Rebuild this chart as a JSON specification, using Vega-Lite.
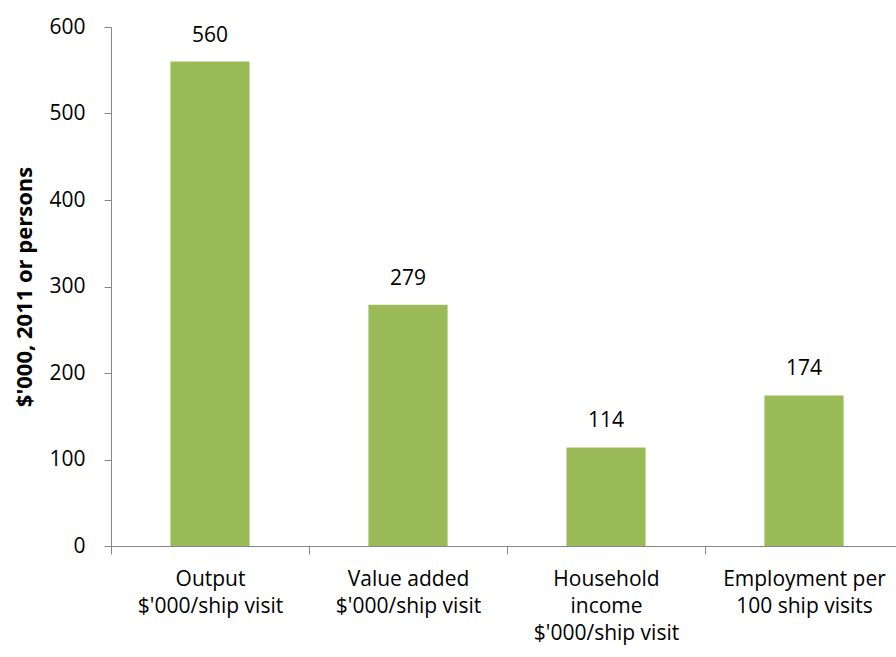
{
  "$schema": "https://vega.github.io/schema/vega-lite/v6.json",
  "autosize": {"type": "none"},
  "padding": {"left": 111, "top": 27, "right": 0, "bottom": 111},
  "width": 792,
  "height": 519,
  "background": "white",
  "config": {"view": {"stroke": null}, "font": "Open Sans"},
  "data": {"values": [
    {"cat": "Output|$'000/ship visit", "value": 560},
    {"cat": "Value added|$'000/ship visit", "value": 279},
    {"cat": "Household|income|$'000/ship visit", "value": 114},
    {"cat": "Employment per|100 ship visits", "value": 174}
  ]},
  "encoding": {
    "x": {
      "field": "cat", "type": "nominal", "sort": null,
      "scale": {"paddingInner": 0, "paddingOuter": 0},
      "axis": {
        "title": null, "labelAngle": 0, "labelExpr": "split(datum.label, '|')",
        "labelFontSize": 21, "labelColor": "#000000", "labelPadding": 14,
        "labelLineHeight": 27, "labelBaseline": "top",
        "tickBand": "extent", "tickSize": 8, "tickColor": "#868686",
        "domainColor": "#868686", "grid": false
      }
    },
    "y": {
      "field": "value", "type": "quantitative",
      "scale": {"domain": [0, 600], "nice": false},
      "axis": {
        "values": [0, 100, 200, 300, 400, 500, 600],
        "title": "$'000, 2011 or persons", "titleFontSize": 22, "titleFontWeight": "bold",
        "titleColor": "#000000", "titleX": -87, "titleBaseline": "middle",
        "labelFontSize": 21, "labelColor": "#000000", "labelPadding": 19,
        "tickSize": 7, "tickColor": "#868686", "domainColor": "#868686", "grid": false
      }
    }
  },
  "layer": [
    {"mark": {"type": "bar", "color": "#9BBB59", "width": {"band": 0.4}}},
    {"mark": {"type": "text", "dy": -20, "fontSize": 21, "color": "#000000", "baseline": "alphabetic"},
     "encoding": {"text": {"field": "value", "type": "quantitative"}}}
  ]
}
